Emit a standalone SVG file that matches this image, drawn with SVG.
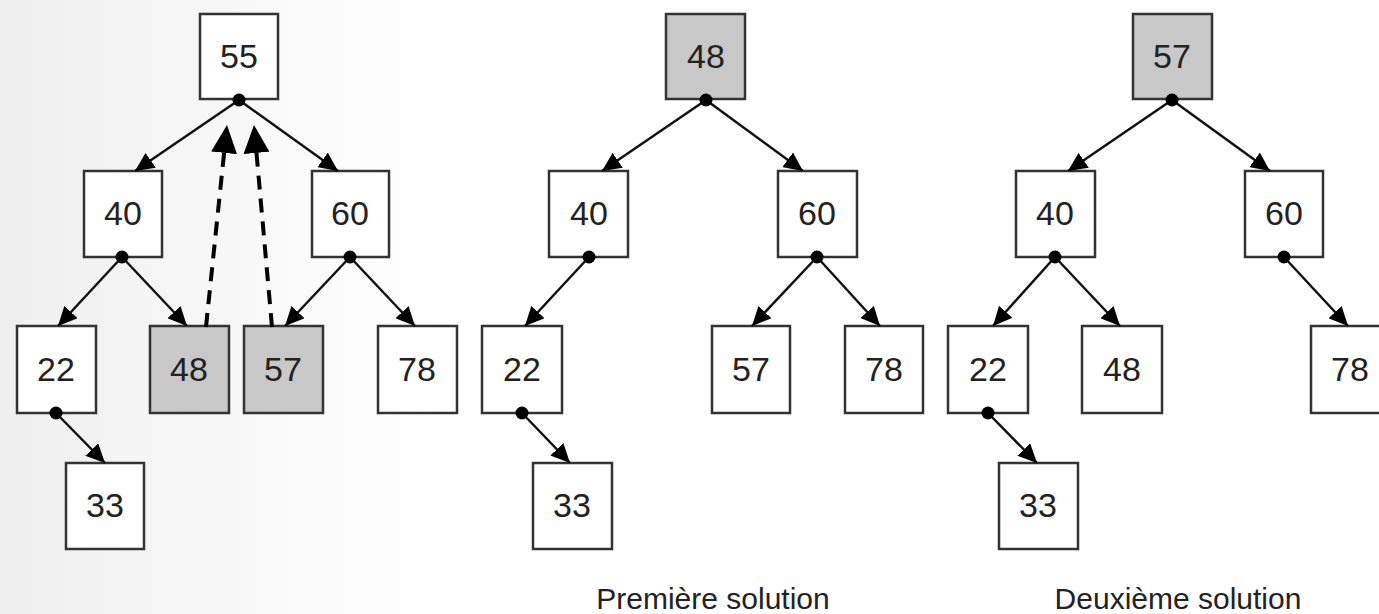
<svg xmlns="http://www.w3.org/2000/svg" width="1379" height="614" viewBox="0 0 1379 614">
<defs>
<linearGradient id="bg" x1="0" y1="0" x2="1" y2="0">
<stop offset="0" stop-color="#efefef"/>
<stop offset="0.32" stop-color="#ffffff"/>
<stop offset="1" stop-color="#ffffff"/>
</linearGradient>
<marker id="arr" markerUnits="userSpaceOnUse" markerWidth="19" markerHeight="18" refX="19" refY="9" orient="auto">
<path d="M0,0 L19,9 L0,18 z" fill="#000"/>
</marker>
<marker id="darr" markerUnits="userSpaceOnUse" markerWidth="28" markerHeight="26" refX="28" refY="13" orient="auto">
<path d="M0,0 L28,13 L0,26 z" fill="#000"/>
</marker>
</defs>
<style>
.box{fill:#ffffff;stroke:#333;stroke-width:2.5}
.hl{fill:#c8c8c8;stroke:#333;stroke-width:2.5}
.num{font-family:"Liberation Sans",Arial,sans-serif;font-size:34px;fill:#222;text-anchor:middle}
.lbl{font-family:"Liberation Sans",Arial,sans-serif;font-size:30px;fill:#222;text-anchor:middle}
.edge{stroke:#111;stroke-width:2.5;fill:none;marker-end:url(#arr)}
.dash{stroke:#000;stroke-width:4;fill:none;stroke-dasharray:14 9;marker-end:url(#darr)}
.dot{fill:#000}
</style>
<rect x="0" y="0" width="1379" height="614" fill="url(#bg)"/>

<!-- Tree 1 -->
<g id="t1-55"><rect class="box" x="200" y="14" width="78" height="85"/><text class="num" x="239" y="68">55</text></g>
<g id="t1-40"><rect class="box" x="84" y="171" width="78" height="86"/><text class="num" x="123" y="225">40</text></g>
<g id="t1-60"><rect class="box" x="312" y="171" width="77" height="86"/><text class="num" x="350" y="225">60</text></g>
<g id="t1-22"><rect class="box" x="17" y="326" width="79" height="87"/><text class="num" x="56" y="381">22</text></g>
<g id="t1-48"><rect class="hl" x="150" y="326" width="79" height="87"/><text class="num" x="189" y="381">48</text></g>
<g id="t1-57"><rect class="hl" x="244" y="326" width="79" height="87"/><text class="num" x="283" y="381">57</text></g>
<g id="t1-78"><rect class="box" x="378" y="326" width="79" height="87"/><text class="num" x="417" y="381">78</text></g>
<g id="t1-33"><rect class="box" x="66" y="463" width="78" height="86"/><text class="num" x="105" y="517">33</text></g>

<!-- Tree 2 -->
<g id="t2-48"><rect class="hl" x="666" y="14" width="79" height="85"/><text class="num" x="706" y="68">48</text></g>
<g id="t2-40"><rect class="box" x="549" y="171" width="79" height="86"/><text class="num" x="589" y="225">40</text></g>
<g id="t2-60"><rect class="box" x="778" y="171" width="79" height="86"/><text class="num" x="817" y="225">60</text></g>
<g id="t2-22"><rect class="box" x="482" y="326" width="80" height="87"/><text class="num" x="522" y="381">22</text></g>
<g id="t2-57"><rect class="box" x="712" y="326" width="78" height="87"/><text class="num" x="751" y="381">57</text></g>
<g id="t2-78"><rect class="box" x="845" y="326" width="78" height="87"/><text class="num" x="884" y="381">78</text></g>
<g id="t2-33"><rect class="box" x="533" y="463" width="79" height="86"/><text class="num" x="572" y="517">33</text></g>
<text class="lbl" x="713" y="609">Première solution</text>

<!-- Tree 3 -->
<g id="t3-57"><rect class="hl" x="1133" y="14" width="79" height="85"/><text class="num" x="1172" y="68">57</text></g>
<g id="t3-40"><rect class="box" x="1016" y="171" width="79" height="86"/><text class="num" x="1055" y="225">40</text></g>
<g id="t3-60"><rect class="box" x="1245" y="171" width="78" height="86"/><text class="num" x="1284" y="225">60</text></g>
<g id="t3-22"><rect class="box" x="948" y="326" width="80" height="87"/><text class="num" x="988" y="381">22</text></g>
<g id="t3-48"><rect class="box" x="1082" y="326" width="80" height="87"/><text class="num" x="1122" y="381">48</text></g>
<g id="t3-78"><rect class="box" x="1311" y="326" width="79" height="87"/><text class="num" x="1350" y="381">78</text></g>
<g id="t3-33"><rect class="box" x="999" y="463" width="79" height="86"/><text class="num" x="1038" y="517">33</text></g>
<text class="lbl" x="1178" y="609">Deuxième solution</text>

<g id="connectors">
<!-- tree 1 -->
<line class="edge" x1="239" y1="100" x2="135" y2="171"/>
<line class="edge" x1="239" y1="100" x2="338" y2="171"/>
<line class="edge" x1="122" y1="257" x2="58" y2="326"/>
<line class="edge" x1="122" y1="257" x2="187" y2="326"/>
<line class="edge" x1="350" y1="257" x2="285" y2="326"/>
<line class="edge" x1="350" y1="257" x2="415" y2="326"/>
<line class="edge" x1="56" y1="413" x2="105" y2="463"/>
<line class="dash" x1="206" y1="327" x2="227" y2="125"/>
<line class="dash" x1="272" y1="327" x2="254" y2="125"/>
<circle class="dot" cx="239" cy="100" r="6.5"/>
<circle class="dot" cx="122" cy="257" r="6.5"/>
<circle class="dot" cx="350" cy="257" r="6.5"/>
<circle class="dot" cx="56" cy="413" r="6.5"/>
<!-- tree 2 -->
<line class="edge" x1="706" y1="100" x2="602" y2="171"/>
<line class="edge" x1="706" y1="100" x2="803" y2="171"/>
<line class="edge" x1="589" y1="257" x2="525" y2="326"/>
<line class="edge" x1="817" y1="257" x2="752" y2="326"/>
<line class="edge" x1="817" y1="257" x2="880" y2="326"/>
<line class="edge" x1="522" y1="413" x2="570" y2="463"/>
<circle class="dot" cx="706" cy="100" r="6.5"/>
<circle class="dot" cx="589" cy="257" r="6.5"/>
<circle class="dot" cx="817" cy="257" r="6.5"/>
<circle class="dot" cx="522" cy="413" r="6.5"/>
<!-- tree 3 -->
<line class="edge" x1="1172" y1="100" x2="1068" y2="171"/>
<line class="edge" x1="1172" y1="100" x2="1270" y2="171"/>
<line class="edge" x1="1055" y1="257" x2="993" y2="326"/>
<line class="edge" x1="1055" y1="257" x2="1120" y2="326"/>
<line class="edge" x1="1284" y1="257" x2="1348" y2="326"/>
<line class="edge" x1="988" y1="413" x2="1037" y2="463"/>
<circle class="dot" cx="1172" cy="100" r="6.5"/>
<circle class="dot" cx="1055" cy="257" r="6.5"/>
<circle class="dot" cx="1284" cy="257" r="6.5"/>
<circle class="dot" cx="988" cy="413" r="6.5"/>
</g>
</svg>
